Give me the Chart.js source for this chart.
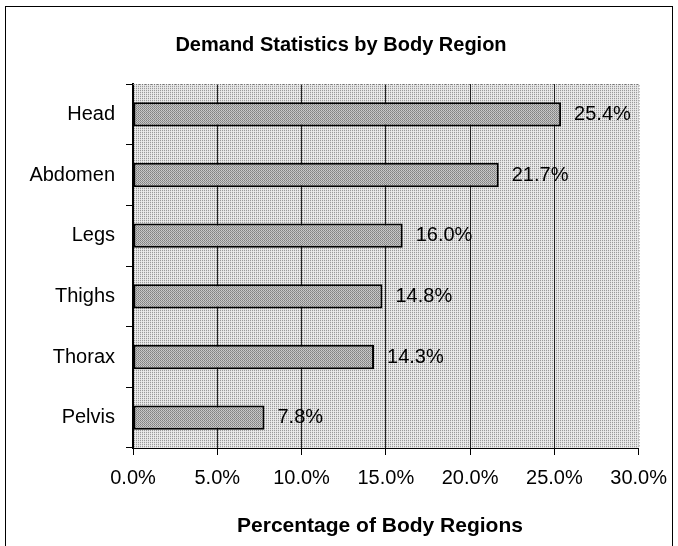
<!DOCTYPE html>
<html>
<head>
<meta charset="utf-8">
<script src="https://cdn.jsdelivr.net/npm/chart.js@4.4.0/dist/chart.umd.min.js"></script>
<style>
    body { margin: 0; background: #fff; }
    canvas { display: block; }
</style>
</head>
<body>
<canvas id="charts" width="678" height="546"></canvas>
<script>
// data
const regions = ['Head', 'Abdomen', 'Legs', 'Thighs', 'Thorax', 'Pelvis']
const percentages = [25.4, 21.7, 16.0, 14.8, 14.3, 7.8]
const xTickLabels = ['0.0%', '5.0%', '10.0%', '15.0%', '20.0%', '25.0%', '30.0%']
const chartTitle = 'Demand Statistics by Body Region'
const xAxisTitle = 'Percentage of Body Regions'

const FONT = '"Liberation Sans", Arial, sans-serif'

// small stipple patterns to imitate the printed halftone
function makePattern(colors)
{
    const c = document.createElement('canvas')
    c.width = 2
    c.height = 2
    const g = c.getContext('2d')
    g.fillStyle = colors[0]; g.fillRect(0, 0, 1, 1)
    g.fillStyle = colors[1]; g.fillRect(1, 0, 1, 1)
    g.fillStyle = colors[2]; g.fillRect(0, 1, 1, 1)
    g.fillStyle = colors[3]; g.fillRect(1, 1, 1, 1)
    return document.getElementById('charts').getContext('2d').createPattern(c, 'repeat')
}

const plotFill = makePattern(['#9a9a9a', '#e6e6e6', '#dcdcdc', '#ececec'])
const barFill = makePattern(['#808080', '#cccccc', '#c0c0c0', '#929292'])

const framePlugin = {
    id: 'frame',
    beforeDraw(chart) {
        const {ctx, chartArea: a} = chart
        ctx.save()
        ctx.fillStyle = plotFill
        ctx.fillRect(a.left, a.top, a.right - a.left, a.bottom - a.top)
        ctx.restore()
    },
    afterDatasetsDraw(chart) {
        const {ctx} = chart
        const meta = chart.getDatasetMeta(0)
        ctx.save()
        ctx.font = '20px ' + FONT
        ctx.fillStyle = '#000'
        ctx.textAlign = 'left'
        ctx.textBaseline = 'middle'
        meta.data.forEach((bar, i) => {
            ctx.fillText(percentages[i].toFixed(1) + '%', bar.x + 13, bar.y)
        })
        ctx.restore()
    },
    afterDraw(chart) {
        const {ctx, chartArea: a} = chart
        ctx.save()
        // dotted top and right edges of the plot area
        ctx.strokeStyle = '#777'
        ctx.lineWidth = 1
        ctx.setLineDash([1, 2])
        ctx.beginPath()
        ctx.moveTo(a.left, a.top + 0.5)
        ctx.lineTo(a.right + 0.5, a.top + 0.5)
        ctx.lineTo(a.right + 0.5, a.bottom)
        ctx.stroke()
        ctx.setLineDash([])

        // titles, placed where the original has them (not centred on the plot)
        ctx.fillStyle = '#000'
        ctx.textAlign = 'center'
        ctx.textBaseline = 'middle'
        ctx.font = 'bold 20px ' + FONT
        ctx.fillText(chartTitle, 341, 45)
        ctx.font = 'bold 21px ' + FONT
        ctx.fillText(xAxisTitle, 380, 526)

        // outer frame
        ctx.strokeStyle = '#000'
        ctx.strokeRect(5.5, 6.5, 667, 560)
        ctx.restore()
    }
}

var ctx = document.getElementById('charts').getContext('2d')

var chart = new Chart(ctx, {
    type: 'bar',
    data: {
        labels: regions,
        datasets: [{
            data: percentages,
            backgroundColor: barFill,
            borderColor: '#000',
            borderWidth: 2,
            borderSkipped: false,
            barPercentage: 0.4,
            categoryPercentage: 1
        }]
    },
    options: {
        indexAxis: 'y',
        responsive: false,
        animation: false,
        layout: {
            padding: { left: 0, right: 37, top: 84, bottom: 0 }
        },
        scales: {
            x: {
                min: 0,
                max: 30,
                ticks: {
                    stepSize: 5,
                    color: '#000',
                    padding: 11,
                    maxRotation: 0,
                    font: { family: FONT, size: 20 },
                    callback: (v, i) => xTickLabels[i]
                },
                grid: {
                    color: (c) => c.index === xTickLabels.length - 1 ? 'rgba(0,0,0,0)' : '#222',
                    tickColor: '#000',
                    tickLength: 7,
                    lineWidth: 1
                },
                border: { display: true, color: '#000', width: 1 },
                afterFit: (scale) => { scale.height = 98 }
            },
            y: {
                ticks: {
                    color: '#000',
                    padding: 11,
                    font: { family: FONT, size: 20 }
                },
                grid: {
                    drawOnChartArea: false,
                    tickColor: '#000',
                    tickLength: 7
                },
                border: { display: true, color: '#000', width: 2 },
                afterFit: (scale) => { scale.width = 133 }
            }
        },
        plugins: {
            legend: { display: false },
            tooltip: { enabled: false },
            title: { display: false }
        }
    },
    plugins: [framePlugin]
})
</script>
</body>
</html>
